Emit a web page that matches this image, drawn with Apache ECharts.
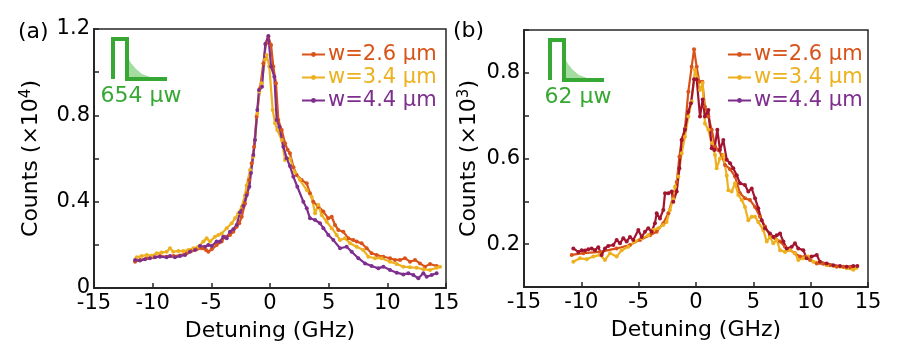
<!DOCTYPE html>
<html><head><meta charset="utf-8">
<script src="https://cdn.jsdelivr.net/npm/echarts@6/dist/echarts.min.js"></script>
<style>html,body{margin:0;padding:0;background:#fff}#c{width:901px;height:359px}</style>
</head><body><div id="c"></div>
<script>
// ---- data (Detuning GHz, Counts) ----
const seriesNames = ["w=2.6 μm", "w=3.4 μm", "w=4.4 μm"];
const xTicks = [-15, -10, -5, 0, 5, 10, 15];
const leftTickLabels = ["0", "", "0.4", "", "0.8", "", "1.2"];      // ticks 0..1.2 step 0.2
const rightTickLabels = ["", "0.2", "", "0.6", "", "0.8", ""];      // ticks 0.3..0.9 step 0.1 (as printed)
const leftPower = "654 μw";
const rightPower = "62 μw";

// panel (a), ×10^4
const a26 = [[-11.5,0.122],[-11.08,0.130],[-10.51,0.138],[-9.94,0.142],[-9.38,0.148],[-8.81,0.145],[-8.24,0.148],[-7.67,0.151],[-7.10,0.161],[-6.68,0.173],[-6.25,0.179],[-5.82,0.184],[-5.45,0.176],[-5.26,0.168],[-4.97,0.179],[-4.55,0.199],[-4.12,0.215],[-3.84,0.238],[-3.41,0.246],[-3.13,0.261],[-2.84,0.284],[-2.62,0.300],[-2.41,0.330],[-2.13,0.390],[-1.93,0.44],[-1.78,0.50],[-1.56,0.578],[-1.36,0.655],[-1.14,0.794],[-0.85,0.925],[-0.57,1.04],[-0.34,1.134],[-0.14,1.165],[0.09,1.126],[0.28,1.026],[0.51,0.949],[0.71,0.778],[1.00,0.732],[1.28,0.671],[1.50,0.640],[1.70,0.624],[2.0,0.56],[2.27,0.524],[2.70,0.500],[3.13,0.485],[3.41,0.439],[3.69,0.400],[4.12,0.377],[4.55,0.354],[4.97,0.323],[5.26,0.330],[5.54,0.292],[5.82,0.269],[6.25,0.261],[6.67,0.230],[7.10,0.222],[7.39,0.215],[7.81,0.207],[8.24,0.184],[8.66,0.161],[9.09,0.153],[9.66,0.145],[10.23,0.138],[10.65,0.130],[11.08,0.130],[11.50,0.138],[11.93,0.122],[12.36,0.130],[12.78,0.114],[13.21,0.099],[13.64,0.111],[14.20,0.102]];
const a34 = [[-11.36,0.142],[-10.94,0.148],[-10.51,0.153],[-10.09,0.150],[-9.66,0.161],[-9.23,0.164],[-8.81,0.168],[-8.52,0.184],[-8.24,0.168],[-7.81,0.171],[-7.39,0.171],[-6.96,0.176],[-6.53,0.184],[-6.11,0.191],[-5.68,0.215],[-5.40,0.230],[-5.11,0.215],[-4.69,0.238],[-4.40,0.246],[-4.12,0.253],[-3.69,0.277],[-3.27,0.300],[-2.98,0.323],[-2.70,0.346],[-2.41,0.377],[-2.13,0.43],[-1.99,0.475],[-1.70,0.547],[-1.42,0.608],[-1.28,0.686],[-1.08,0.809],[-0.91,0.910],[-0.71,0.949],[-0.43,1.057],[-0.28,1.080],[-0.06,1.026],[0.23,0.825],[0.43,0.763],[0.62,0.732],[1.00,0.686],[1.28,0.593],[1.70,0.600],[2.13,0.535],[2.56,0.50],[3.13,0.454],[3.55,0.423],[3.84,0.346],[4.12,0.385],[4.40,0.338],[4.83,0.307],[5.26,0.277],[5.68,0.246],[5.97,0.222],[6.39,0.230],[6.82,0.207],[7.39,0.191],[7.95,0.176],[8.38,0.145],[8.95,0.138],[9.52,0.138],[10.23,0.122],[10.80,0.111],[11.36,0.099],[11.93,0.096],[12.50,0.094],[13.07,0.087],[13.64,0.083],[14.20,0.094],[14.49,0.099]];
const a44 = [[-11.5,0.130],[-11.08,0.127],[-10.65,0.133],[-10.23,0.138],[-9.80,0.142],[-9.38,0.145],[-8.81,0.142],[-8.52,0.148],[-8.10,0.142],[-7.67,0.148],[-7.24,0.153],[-6.82,0.168],[-6.39,0.176],[-5.97,0.195],[-5.54,0.191],[-5.26,0.199],[-4.97,0.195],[-4.55,0.215],[-4.26,0.215],[-3.98,0.238],[-3.69,0.230],[-3.41,0.261],[-3.13,0.272],[-2.84,0.292],[-2.56,0.35],[-2.27,0.38],[-1.99,0.43],[-1.76,0.469],[-1.62,0.533],[-1.42,0.616],[-1.28,0.686],[-1.08,0.825],[-0.94,0.917],[-0.68,0.933],[-0.40,1.13],[-0.14,1.168],[0.09,1.026],[0.37,0.979],[0.57,0.778],[0.80,0.747],[1.14,0.655],[1.42,0.601],[1.70,0.565],[1.99,0.516],[2.33,0.469],[2.84,0.400],[3.13,0.369],[3.41,0.323],[3.84,0.315],[4.26,0.300],[4.55,0.277],[4.97,0.246],[5.40,0.222],[5.97,0.184],[6.53,0.191],[6.96,0.168],[7.53,0.138],[8.10,0.114],[8.66,0.102],[9.23,0.091],[9.66,0.099],[10.23,0.083],[10.80,0.071],[11.36,0.063],[11.79,0.068],[12.22,0.060],[12.64,0.045],[13.07,0.068],[13.35,0.052],[13.78,0.060],[14.20,0.068]];

// panel (b), ×10^3
const b26 = [[-10.84,0.375],[-9.83,0.379],[-8.37,0.382],[-6.92,0.390],[-5.76,0.398],[-4.88,0.410],[-4.01,0.421],[-3.43,0.429],[-2.85,0.449],[-2.41,0.472],[-1.98,0.511],[-1.68,0.545],[-1.45,0.604],[-1.25,0.643],[-0.96,0.670],[-0.67,0.756],[-0.38,0.814],[-0.17,0.855],[0.06,0.814],[0.29,0.779],[0.55,0.779],[0.78,0.721],[1.08,0.698],[1.37,0.667],[1.66,0.628],[1.94,0.620],[2.24,0.608],[2.53,0.585],[2.97,0.575],[3.40,0.558],[3.84,0.519],[4.27,0.507],[4.71,0.503],[5.15,0.487],[5.58,0.464],[6.02,0.441],[6.45,0.421],[6.89,0.414],[7.33,0.406],[7.76,0.394],[8.20,0.386],[8.63,0.379],[9.07,0.371],[9.51,0.371],[9.94,0.363],[10.53,0.355],[11.10,0.354],[11.69,0.351],[12.27,0.347],[12.85,0.347],[13.43,0.346],[14.01,0.347]];
const b34 = [[-10.70,0.359],[-10.12,0.367],[-9.53,0.365],[-8.96,0.371],[-8.37,0.375],[-7.94,0.363],[-7.50,0.379],[-6.92,0.371],[-6.48,0.386],[-5.90,0.394],[-5.32,0.406],[-4.74,0.414],[-4.16,0.421],[-3.72,0.433],[-3.29,0.437],[-2.85,0.445],[-2.56,0.452],[-2.27,0.480],[-1.98,0.505],[-1.83,0.534],[-1.54,0.558],[-1.25,0.612],[-0.96,0.651],[-0.67,0.698],[-0.38,0.733],[-0.09,0.807],[0.12,0.787],[0.35,0.760],[0.58,0.776],[0.78,0.682],[1.08,0.667],[1.37,0.636],[1.66,0.608],[1.80,0.577],[2.09,0.600],[2.38,0.608],[2.68,0.560],[2.82,0.526],[3.11,0.523],[3.40,0.542],[3.69,0.515],[3.99,0.503],[4.27,0.487],[4.56,0.456],[4.86,0.464],[5.15,0.464],[5.43,0.452],[5.87,0.433],[6.17,0.406],[6.45,0.417],[6.74,0.402],[7.04,0.410],[7.33,0.386],[7.76,0.382],[8.20,0.386],[8.63,0.379],[8.92,0.363],[9.36,0.367],[9.79,0.371],[10.23,0.359],[10.81,0.359],[11.40,0.351],[11.97,0.349],[12.56,0.347],[13.14,0.344],[13.72,0.340],[14.0,0.345]];
const b44 = [[-10.70,0.390],[-10.26,0.382],[-9.97,0.386],[-9.68,0.385],[-9.39,0.388],[-9.10,0.390],[-8.81,0.386],[-8.52,0.393],[-8.23,0.375],[-7.94,0.390],[-7.65,0.396],[-7.21,0.398],[-6.92,0.410],[-6.63,0.402],[-6.34,0.414],[-6.05,0.406],[-5.76,0.417],[-5.47,0.410],[-5.03,0.433],[-4.74,0.417],[-4.45,0.429],[-4.16,0.437],[-3.87,0.429],[-3.58,0.449],[-3.43,0.472],[-3.14,0.460],[-2.85,0.480],[-2.70,0.519],[-2.41,0.519],[-2.12,0.523],[-1.98,0.499],[-1.68,0.523],[-1.45,0.577],[-1.25,0.643],[-0.96,0.667],[-0.67,0.709],[-0.44,0.729],[-0.17,0.785],[0.06,0.785],[0.35,0.698],[0.58,0.738],[0.78,0.698],[1.08,0.713],[1.37,0.624],[1.60,0.620],[1.86,0.667],[2.09,0.620],[2.38,0.643],[2.68,0.597],[2.97,0.589],[3.25,0.577],[3.55,0.561],[3.84,0.542],[4.27,0.538],[4.56,0.523],[4.86,0.530],[5.15,0.507],[5.43,0.484],[5.73,0.456],[6.02,0.437],[6.45,0.425],[6.74,0.417],[7.04,0.421],[7.33,0.425],[7.62,0.406],[7.91,0.390],[8.35,0.394],[8.63,0.402],[8.92,0.390],[9.36,0.386],[9.65,0.367],[10.09,0.371],[10.53,0.375],[10.81,0.359],[11.40,0.355],[11.97,0.351],[12.56,0.349],[13.14,0.347],[13.72,0.349],[14.07,0.349]];

// ---- styling ----
const FONT = "DejaVu Sans";
const AX = "#262626";
const C26 = "#D95319", C34 = "#EDB120", C44 = "#7E2F8E", CRED = "#A2142F";
const GREEN = "#36A833", LGREEN = "#A5DCA0";

const chart = echarts.init(document.getElementById('c'), null, {renderer: 'canvas'});

function xAxisCfg(gi) {
  return {
    gridIndex: gi, type: 'value', min: -15, max: 15, interval: 5,
    name: 'Detuning (GHz)', nameLocation: 'middle', nameGap: 32,
    nameTextStyle: {fontFamily: FONT, fontSize: 22, color: '#000'},
    axisLine: {onZero: false, lineStyle: {color: AX, width: 2}},
    axisTick: {inside: true, length: 5, lineStyle: {color: AX, width: 1.5}},
    axisLabel: {fontFamily: FONT, fontSize: 21, color: '#000', margin: 5,
      formatter: v => String(xTicks[Math.round((v + 15) / 5)])},
    splitLine: {show: false}
  };
}
function yAxisCfg(gi, min, max, interval, labels, exp, gap) {
  return {
    gridIndex: gi, type: 'value', min: min, max: max, interval: interval,
    name: '{a|Counts (×10}{s|' + exp + '}{a|)}', nameLocation: 'middle', nameGap: gap,
    nameTextStyle: {fontFamily: FONT, fontSize: 22, color: '#000',
      rich: {a: {fontFamily: FONT, fontSize: 22, color: '#000'},
             s: {fontFamily: FONT, fontSize: 15, color: '#000', verticalAlign: 'top', padding: [0,0,10,0]}}},
    axisLine: {onZero: false, lineStyle: {color: AX, width: 2}},
    axisTick: {inside: true, length: 5, lineStyle: {color: AX, width: 1.5}},
    axisLabel: {fontFamily: FONT, fontSize: 21, color: '#000', margin: 4,
      formatter: v => labels[Math.round((v - min) / interval)] || ''},
    splitLine: {show: false}
  };
}
function lineSeries(name, data, color, xi) {
  return {
    type: 'line', name: name, xAxisIndex: xi, yAxisIndex: xi, data: data,
    symbol: 'circle', symbolSize: 4, showSymbol: true,
    lineStyle: {color: color, width: 2.2}, itemStyle: {color: color},
    animation: false, z: 3
  };
}
function legendCfg(left, colors, iconColors) {
  return {
    orient: 'vertical', left: left, top: 39, itemGap: 2, itemWidth: 23, itemHeight: 6,
    textStyle: {fontFamily: FONT, fontSize: 21, lineHeight: 21, padding: [0,0,0,-2]},
    data: seriesNames.map((n, i) => ({
      name: n, textStyle: {color: colors[i]},
      itemStyle: {color: iconColors[i]}, lineStyle: {color: iconColors[i], width: 2}
    })),
    selectedMode: false
  };
}

function inset(x0, y0, text) {
  return [
    {type: 'polygon', silent: true, shape: {points: [[x0+14,y0+17],[x0+18,y0+24],[x0+23,y0+30],[x0+29,y0+35],[x0+37,y0+38],[x0+47,y0+40],[x0+14,y0+40]]},
     style: {fill: LGREEN}},
    {type: 'polyline', silent: true, shape: {points: [[x0,y0+40],[x0,y0],[x0+14,y0],[x0+14,y0+40],[x0+54,y0+40]]},
     style: {stroke: GREEN, lineWidth: 4, fill: null, lineJoin: 'miter'}},
    {type: 'text', silent: true, style: {text: text, x: x0 + 28, y: y0 + 57, fill: GREEN,
      font: '22px "' + FONT + '"', textAlign: 'center', textVerticalAlign: 'middle'}}
  ];
}

const option = {
  backgroundColor: '#fff',
  animation: false,
  grid: [
    {left: 94, right: 455, top: 29, bottom: 71, show: true, borderColor: AX, borderWidth: 1.5},
    {left: 524, right: 33, top: 30, bottom: 72, show: true, borderColor: AX, borderWidth: 1.5}
  ],
  xAxis: [xAxisCfg(0), xAxisCfg(1)],
  yAxis: [
    yAxisCfg(0, 0, 1.2, 0.2, leftTickLabels, '4', 50),
    yAxisCfg(1, 0.3, 0.9, 0.1, rightTickLabels, '3', 42)
  ],
  legend: [
    legendCfg(296, [C26, C34, C44], [C26, C34, C44]),
    legendCfg(722, [C26, C34, C44], [C26, C34, C44])
  ],
  series: [
    lineSeries(seriesNames[0], a26, C26, 0),
    lineSeries(seriesNames[1], a34, C34, 0),
    lineSeries(seriesNames[2], a44, C44, 0),
    lineSeries(seriesNames[0], b26, C26, 1),
    lineSeries(seriesNames[1], b34, C34, 1),
    lineSeries(seriesNames[2], b44, CRED, 1)
  ],
  graphic: [
    {type: 'text', silent: true, style: {text: '(a)', x: 18, y: 32, font: '22px "' + FONT + '"', fill: '#000', textVerticalAlign: 'middle'}},
    {type: 'text', silent: true, style: {text: '(b)', x: 453, y: 31, font: '22px "' + FONT + '"', fill: '#000', textVerticalAlign: 'middle'}}
  ].concat(inset(113, 39, leftPower)).concat(inset(550, 40, rightPower))
};
chart.setOption(option);
</script>
</body></html>
